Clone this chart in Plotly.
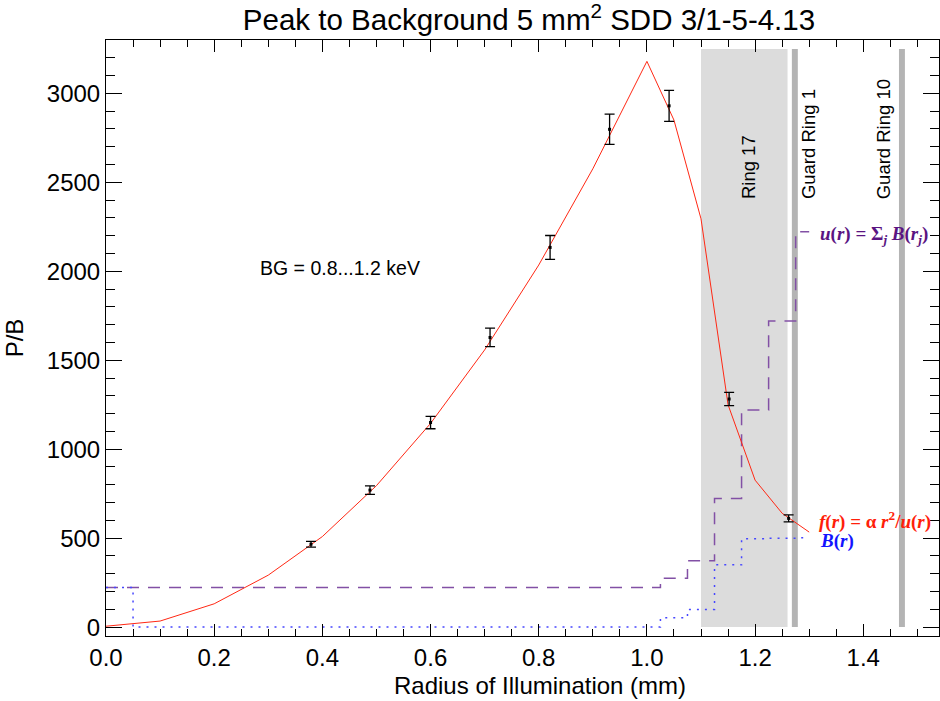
import plotly.graph_objects as go

# Measured points with error bars
r_meas = [0.379, 0.488, 0.600, 0.710, 0.821, 0.931, 1.041, 1.152, 1.262]
pb_meas = [466, 770, 1150, 1628, 2134, 2798, 2930, 1282, 611]
pb_err = [16, 24, 35, 52, 67, 85, 87, 37, 20]

# Model f(r) = alpha r^2 / u(r)
r_fit = [0.0, 0.1, 0.2, 0.3, 0.4, 0.5, 0.6, 0.7, 0.8, 0.9, 1.0, 1.05, 1.1, 1.15, 1.2, 1.25, 1.3]
f_fit = [5, 34, 131, 292, 509, 795, 1145, 1558, 2035, 2576, 3180, 2850, 2295, 1250, 826, 640, 534]

# u(r) cumulative background (step)
r_u = [0.0, 1.025, 1.075, 1.125, 1.175, 1.225, 1.275, 1.3]
u_val = [222, 274, 373, 723, 1220, 1720, 2222, 2222]

# B(r) ring background (step)
r_b = [0.0, 0.05, 1.025, 1.075, 1.125, 1.175, 1.225, 1.275, 1.3]
b_val = [222, 0, 52, 99, 350, 497, 500, 502, 502]

# Ring regions (x0, x1) and labels
ring_names = ["Ring 17", "Guard Ring 1", "Guard Ring 10"]
ring_x0 = [1.100, 1.268, 1.466]
ring_x1 = [1.260, 1.279, 1.477]
ring_colors = ["#dcdcdc", "#b4b4b4", "#b4b4b4"]
ring_label_x = [1.187, 1.298, 1.437]
ring_top = 3250

fig = go.Figure()

for x0, x1, c in zip(ring_x0, ring_x1, ring_colors):
    fig.add_shape(type="rect", x0=x0, x1=x1, y0=0, y1=ring_top, xref="x", yref="y",
                  fillcolor=c, line_width=0, layer="below")

fig.add_trace(go.Scatter(x=r_u, y=u_val, mode="lines", line_shape="hv",
                         line=dict(color="rgb(130,80,165)", width=1.5, dash="12px,9px"),
                         showlegend=False))
fig.add_trace(go.Scatter(x=r_b, y=b_val, mode="lines", line_shape="hv",
                         line=dict(color="rgb(70,70,255)", width=1.5, dash="2px,6px"),
                         showlegend=False))
fig.add_trace(go.Scatter(x=r_fit, y=f_fit, mode="lines",
                         line=dict(color="rgb(255,40,20)", width=1),
                         showlegend=False))
fig.add_trace(go.Scatter(x=r_meas, y=pb_meas, mode="markers",
                         marker=dict(color="black", size=3, symbol="square"),
                         error_y=dict(type="data", array=pb_err, color="black",
                                      thickness=1.3, width=5),
                         showlegend=False))

for name, lx in zip(ring_names, ring_label_x):
    fig.add_annotation(x=lx, y=2395, xref="x", yref="y", text=name, textangle=-90,
                       showarrow=False, xanchor="center", yanchor="bottom",
                       font=dict(family="Liberation Sans", size=18.5, color="black"))

fig.add_annotation(x=0.281, y=2018, xref="x", yref="y", text="BG = 0.8...1.2 keV",
                   showarrow=False, xanchor="left", yanchor="middle",
                   font=dict(family="Liberation Sans", size=19.5, color="black"))

label_font = "Liberation Serif"
fig.add_annotation(x=1.317, y=2203, xref="x", yref="y",
                   text="<b><i>u</i>(<i>r</i>) = Σ<sub><i>j</i></sub> <i>B</i>(<i>r<sub>j</sub></i>)</b>",
                   showarrow=False, xanchor="left", yanchor="middle",
                   font=dict(family=label_font, size=19, color="rgb(90,20,130)"))
fig.add_annotation(x=1.314, y=600, xref="x", yref="y",
                   text="<b><i>f</i>(<i>r</i>) = α <i>r</i><sup>2</sup>/<i>u</i>(<i>r</i>)</b>",
                   showarrow=False, xanchor="left", yanchor="middle",
                   font=dict(family=label_font, size=19, color="rgb(255,30,10)"))
fig.add_annotation(x=1.317, y=482, xref="x", yref="y",
                   text="<b><i>B</i>(<i>r</i>)</b>",
                   showarrow=False, xanchor="left", yanchor="middle",
                   font=dict(family=label_font, size=19, color="rgb(20,20,255)"))

axis_font = dict(family="Liberation Sans", size=24, color="black")

# x-axis title placed as annotation (paper coords span the plot area 106..939 x 40..636 px)
fig.add_annotation(x=(540 - 106) / 833, y=(636 - 685) / 596, xref="paper", yref="paper",
                   text="Radius of Illumination (mm)", showarrow=False,
                   xanchor="center", yanchor="middle", font=axis_font)

fig.update_layout(
    width=940, height=701,
    margin=dict(l=106, r=1, t=40, b=65, autoexpand=False),
    paper_bgcolor="white", plot_bgcolor="white",
    title=dict(text="Peak to Background 5 mm<sup>2</sup> SDD 3/1-5-4.13",
               x=529 / 940, xanchor="center", y=0.972, yanchor="middle",
               font=dict(family="Liberation Sans", size=29.5, color="black")),
    xaxis=dict(range=[0, 1.54], dtick=0.2, tick0=0, tickformat=".1f",
               ticks="inside", ticklen=12, tickcolor="black", tickwidth=1,
               showline=True, linecolor="black", linewidth=1, mirror="ticks",
               showgrid=False, zeroline=False, tickfont=axis_font, automargin=False,
               minor=dict(dtick=0.05, ticks="inside", ticklen=7, tickcolor="black", showgrid=False)),
    yaxis=dict(range=[-50, 3300], dtick=500, tick0=0,
               ticks="inside", ticklen=16, tickcolor="black", tickwidth=1,
               showline=True, linecolor="black", linewidth=1, mirror="ticks",
               showgrid=False, zeroline=False, tickfont=axis_font, automargin=False,
               minor=dict(dtick=100, ticks="inside", ticklen=9, tickcolor="black", showgrid=False),
               title=dict(text="P/B", font=axis_font, standoff=16)),
)

fig.write_html("out.html", config={"displayModeBar": False},
               post_script="document.body.style.margin='0';document.body.style.padding='0';")
